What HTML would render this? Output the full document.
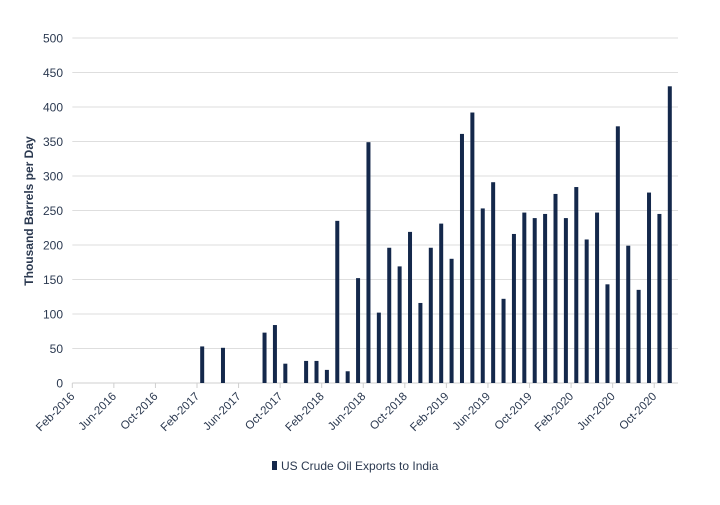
<!DOCTYPE html>
<html><head><meta charset="utf-8"><style>
body{margin:0;background:#fff;font-family:"Liberation Sans",sans-serif;}
svg text{font-family:"Liberation Sans",sans-serif;fill:#2b3950;}
</style></head><body>
<svg id="c" width="720" height="500"></svg>
<script>
const categories=[];
const monthNames=["Jan","Feb","Mar","Apr","May","Jun","Jul","Aug","Sep","Oct","Nov","Dec"];
for(let i=0;i<58;i++){const m=(1+i)%12,y=2016+Math.floor((1+i)/12);categories.push(monthNames[m]+"-"+y);}
const values=[0,0,0,0,0,0,0,0,0,0,0,0,53,0,51,0,0,0,73,84,28,0,32,32,19,235,17,152,349,102,196,169,219,116,196,231,180,361,392,253,291,122,216,247,239,245,274,239,284,208,247,143,372,199,135,276,245,430];
const yTicks=[0,50,100,150,200,250,300,350,400,450,500];
const seriesName="US Crude Oil Exports to India";
const NS="http://www.w3.org/2000/svg",svg=document.getElementById('c');
const x0=72.3,x1=675,y0=383,y1=38;
const bw=(x1-x0)/categories.length;
const xs=i=>x0+i*bw, ys=v=>y0-(v/500)*(y0-y1);
function el(t,a,p){const e=document.createElementNS(NS,t);for(const k in a)e.setAttribute(k,a[k]);(p||svg).appendChild(e);return e;}
yTicks.forEach(v=>{
 const g=el('line',{x1:x0,x2:678,y1:ys(v),y2:ys(v),stroke:v===0?'#cfcfcf':'#dedede','stroke-width':1});
 
 
 const t=el('text',{x:63,y:ys(v)+4.5,'text-anchor':'end','font-size':12});t.textContent=v;
 
 
});
categories.forEach((c,i)=>{
 if(values[i]>0){const r=el('rect',{x:xs(i)+bw/2-2,y:ys(values[i]),width:4,height:ys(0)-ys(values[i]),fill:'#14284b'});
 
 }
 if(i%4===0){
  el('line',{x1:xs(i),x2:xs(i),y1:y0,y2:y0+5,stroke:'#cfcfcf'});
  const t=el('text',{x:xs(i)+3,y:y0+14,'text-anchor':'end','font-size':11.5,transform:`rotate(-45 ${xs(i)+3} ${y0+14})`});
  t.textContent=c;
  
  
 }
});
const yt=el('text',{x:33,y:211,'text-anchor':'middle','font-size':12,'font-weight':'bold',transform:'rotate(-90 33 211)'});
yt.textContent="Thousand Barrels per Day";


const lg=el('g',{});


el('rect',{x:272,y:461,width:5,height:9,fill:'#14284b'},lg);
const lt=el('text',{x:281,y:470,'font-size':12},lg);lt.textContent=seriesName;
</script>
</body></html>
